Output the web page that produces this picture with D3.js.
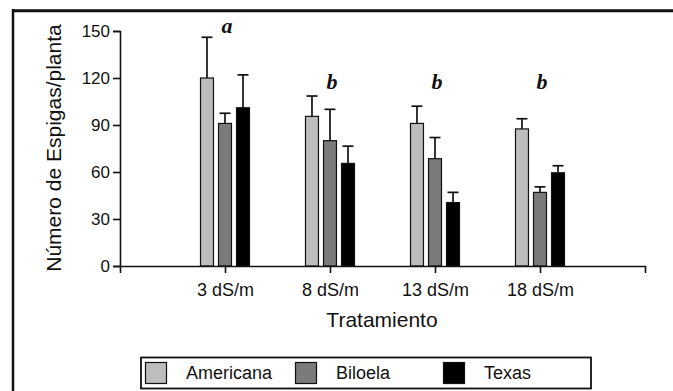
<!DOCTYPE html>
<html>
<head>
<meta charset="utf-8">
<script src="https://cdn.jsdelivr.net/npm/d3@7"></script>
<style>
  body { margin: 0; background: #fff; }
  svg { display: block; }
  text { font-family: "Liberation Sans", Arial, sans-serif; fill: #111; }
</style>
</head>
<body>
<div id="chart"></div>
<script>
(function(d3) {

  // Data.
  var treatments = ['3 dS/m', '8 dS/m', '13 dS/m', '18 dS/m'];
  var series = ['Americana', 'Biloela', 'Texas'];
  var americana = [120, 95.5, 91, 87.5];
  var biloela = [91, 80, 68.5, 47];
  var texas = [101, 65.5, 40.5, 59.5];
  var americanaErr = [146, 108.5, 102, 94];
  var biloelaErr = [97.5, 100, 82, 50.5];
  var texasErr = [122, 76.5, 47, 64];
  var letters = ['a', 'b', 'b', 'b'];
  var letterLevel = [149, 113, 113, 113];
  var yTicks = [0, 30, 60, 90, 120, 150];
  var colors = ['#bdbdbd', '#7b7b7b', '#000000'];

  var values = [americana, biloela, texas];
  var errTops = [americanaErr, biloelaErr, texasErr];

  var width = 673, height = 391;

  var svg = d3.select('#chart').append('svg')
    .attr('width', width)
    .attr('height', height);

  // Frame (cut off at right and bottom in the original).
  svg.append('line')
    .attr('x1', 12).attr('x2', width)
    .attr('y1', 10.7).attr('y2', 10.7)
    .attr('stroke', '#111').attr('stroke-width', 3);
  svg.append('line')
    .attr('x1', 13).attr('x2', 13)
    .attr('y1', 9).attr('y2', height)
    .attr('stroke', '#111').attr('stroke-width', 2.5);

  var x = d3.scaleLinear()
    .domain([0, treatments.length + 1])
    .range([120, 645]);

  var y = d3.scaleLinear()
    .domain([0, 150])
    .range([266, 31]);

  var inner = d3.scaleBand()
    .domain(series)
    .range([-24.5, 24.5])
    .paddingInner(0.28);

  // Bars.
  var rows = [];
  series.forEach(function(s, si) {
    treatments.forEach(function(t, ti) {
      rows.push({ s: s, si: si, ti: ti, v: values[si][ti], top: errTops[si][ti] });
    });
  });

  var g = svg.append('g');

  // Error bars (upper only).
  var eb = g.selectAll('.err').data(rows).enter().append('g')
    .attr('class', 'err')
    .attr('stroke', '#111')
    .attr('stroke-width', 1.7);
  eb.append('line')
    .attr('x1', function(d) { return x(d.ti + 1) + inner(d.s) + inner.bandwidth() / 2; })
    .attr('x2', function(d) { return x(d.ti + 1) + inner(d.s) + inner.bandwidth() / 2; })
    .attr('y1', function(d) { return y(d.v); })
    .attr('y2', function(d) { return y(d.top); });
  eb.append('line')
    .attr('x1', function(d) { return x(d.ti + 1) + inner(d.s) + inner.bandwidth() / 2 - 5.5; })
    .attr('x2', function(d) { return x(d.ti + 1) + inner(d.s) + inner.bandwidth() / 2 + 5.5; })
    .attr('y1', function(d) { return y(d.top); })
    .attr('y2', function(d) { return y(d.top); });

  g.selectAll('.bar').data(rows).enter().append('rect')
    .attr('class', 'bar')
    .attr('x', function(d) { return x(d.ti + 1) + inner(d.s); })
    .attr('y', function(d) { return y(d.v); })
    .attr('width', inner.bandwidth())
    .attr('height', function(d) { return y(0) - y(d.v); })
    .attr('fill', function(d) { return colors[d.si]; })
    .attr('stroke', '#111')
    .attr('stroke-width', 1.2);

  // Significance letters.
  svg.selectAll('.letter').data(letters).enter().append('text')
    .attr('class', 'letter')
    .attr('x', function(d, i) { return x(i + 1) + 2; })
    .attr('y', function(d, i) { return y(letterLevel[i]); })
    .attr('text-anchor', 'middle')
    .style('font-family', '"Liberation Serif", "Times New Roman", serif')
    .style('font-weight', 'bold')
    .style('font-style', 'italic')
    .style('font-size', '22px')
    .text(function(d) { return d; });

  // Axes.
  var yAxis = svg.append('g')
    .attr('transform', 'translate(120,0)')
    .call(d3.axisLeft(y).tickValues(yTicks).tickSize(7).tickPadding(3));

  var xAxis = svg.append('g')
    .attr('transform', 'translate(0,266)')
    .call(d3.axisBottom(x)
      .tickValues(d3.range(1, treatments.length + 1))
      .tickFormat(function(d) { return treatments[d - 1]; })
      .tickSize(7)
      .tickSizeOuter(7)
      .tickPadding(10));

  [yAxis, xAxis].forEach(function(a) {
    a.selectAll('path, line').attr('stroke', '#111').attr('stroke-width', 1.6);
    a.selectAll('text')
      .style('font-family', '"Liberation Sans", Arial, sans-serif')
      .attr('fill', '#111');
  });
  yAxis.selectAll('text').style('font-size', '17px');
  xAxis.selectAll('text').style('font-size', '18px');

  // Axis titles.
  svg.append('text')
    .attr('x', 382)
    .attr('y', 327)
    .attr('text-anchor', 'middle')
    .style('font-size', '21px')
    .text('Tratamiento');

  svg.append('text')
    .attr('transform', 'translate(61,148) rotate(-90)')
    .attr('text-anchor', 'middle')
    .style('font-size', '21px')
    .text('Número de Espigas/planta');

  // Legend.
  var legend = svg.append('g');
  legend.append('rect')
    .attr('x', 141).attr('y', 357.5)
    .attr('width', 450).attr('height', 31)
    .attr('fill', '#fff')
    .attr('stroke', '#111')
    .attr('stroke-width', 1.8);

  var legendX = [145, 295, 443];
  var item = legend.selectAll('.item').data(series).enter().append('g')
    .attr('class', 'item')
    .attr('transform', function(d, i) { return 'translate(' + legendX[i] + ',0)'; });
  item.append('rect')
    .attr('x', 0.5).attr('y', 362.5)
    .attr('width', 21).attr('height', 21)
    .attr('fill', function(d, i) { return colors[i]; })
    .attr('stroke', '#111')
    .attr('stroke-width', 1.2);
  item.append('text')
    .attr('x', 41)
    .attr('y', 379)
    .style('font-size', '18px')
    .text(function(d) { return d; });

})(d3);
</script>
</body>
</html>
